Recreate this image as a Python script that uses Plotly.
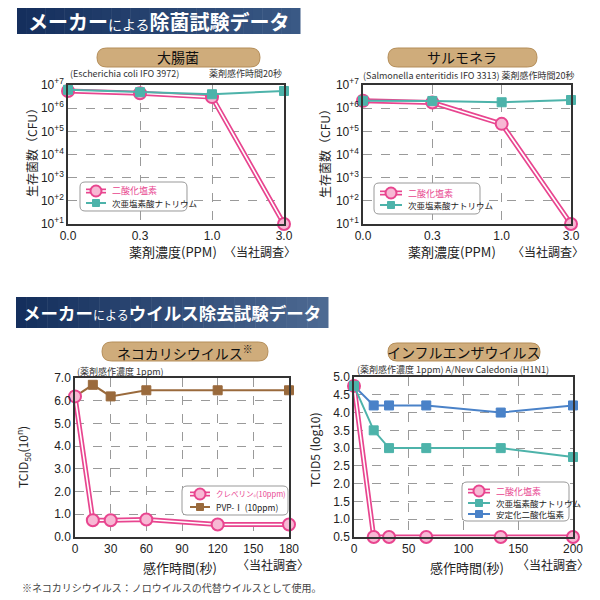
import plotly.graph_objects as go

W = H = 600
OFF = 8  # page body margin in the browser
def px(x): return (x - OFF) / W
def py(y): return 1 - (y - OFF) / H

FONT = "Noto Sans CJK JP"
NUMFONT = "Liberation Sans"

# ---------------- data ----------------
conc_labels = ["0.0", "0.3", "1.0", "3.0"]
ecoli_clo2 = [5.5e6, 4.4e6, 3.0e6, 10]
ecoli_naclo = [6.2e6, 4.9e6, 4.0e6, 5.5e6]
salm_clo2 = [2.1e6, 1.75e6, 2.1e5, 10]
salm_naclo = [2.1e6, 2.05e6, 1.8e6, 2.25e6]
log_tickvals = [1e1, 1e2, 1e3, 1e4, 1e5, 1e6, 1e7]
log_ticktext = ["10<sup>+1</sup>", "10<sup>+2</sup>", "10<sup>+3</sup>", "10<sup>+4</sup>",
                "10<sup>+5</sup>", "10<sup>+6</sup>", "10<sup>+7</sup>"]

calici_time = [0, 15, 30, 60, 120, 180]
calici_cleverin = [6.19, 0.74, 0.74, 0.77, 0.55, 0.55]
calici_pvp = [6.19, 6.7, 6.19, 6.46, 6.46, 6.46]

flu_time = [0, 18, 32, 66, 134, 200]
flu_clo2 = [4.75, 0.5, 0.5, 0.5, 0.5, 0.5]
flu_naclo = [4.75, 3.5, 3.0, 3.0, 3.0, 2.75]
flu_stab = [4.75, 4.2, 4.2, 4.2, 4.0, 4.2]

PINK = "#e8458f"
PINK_FILL = "#f7b8d4"
TEAL = "#4db3aa"
BLUE = "#4a82c8"
BROWN = "#9a6a3c"

fig = go.Figure()

def pink_series(x, y, name, xa, ya):
    fig.add_trace(go.Scatter(x=x, y=y, name=name, mode="lines", xaxis=xa, yaxis=ya,
                             cliponaxis=False, line=dict(color=PINK, width=5)))
    fig.add_trace(go.Scatter(x=x, y=y, mode="lines", xaxis=xa, yaxis=ya, showlegend=False,
                             cliponaxis=False, line=dict(color="white", width=1.6), hoverinfo="skip"))
    fig.add_trace(go.Scatter(x=x, y=y, name=name, mode="markers", xaxis=xa, yaxis=ya,
                             cliponaxis=False,
                             marker=dict(symbol="circle", size=12, color=PINK_FILL,
                                         line=dict(color=PINK, width=2))))

def square_series(x, y, name, color, xa, ya):
    fig.add_trace(go.Scatter(x=x, y=y, name=name, mode="lines+markers", xaxis=xa, yaxis=ya,
                             cliponaxis=False,
                             line=dict(color=color, width=2),
                             marker=dict(symbol="square", size=9, color=color,
                                         line=dict(color=color, width=1))))

# chart 1
pink_series(conc_labels, ecoli_clo2, "二酸化塩素", "x", "y")
square_series(conc_labels, ecoli_naclo, "次亜塩素酸ナトリウム", TEAL, "x", "y")
# chart 2
pink_series(conc_labels, salm_clo2, "二酸化塩素", "x2", "y2")
square_series(conc_labels, salm_naclo, "次亜塩素酸ナトリウム", TEAL, "x2", "y2")
# chart 3
square_series(calici_time, calici_pvp, "PVP-Ⅰ (10ppm)", BROWN, "x3", "y3")
pink_series(calici_time, calici_cleverin, "クレベリン®(10ppm)", "x3", "y3")
# chart 4
square_series(flu_time, flu_stab, "安定化二酸化塩素", BLUE, "x4", "y4")
pink_series(flu_time, flu_clo2, "二酸化塩素", "x4", "y4")
square_series(flu_time, flu_naclo, "次亜塩素酸ナトリウム", TEAL, "x4", "y4")

axis_common = dict(showline=True, linecolor="#333", linewidth=1.5, mirror=True,
                   showgrid=True, gridcolor="#9a9a9a", griddash="dash", gridwidth=1,
                   zeroline=False, ticks="", automargin=False,
                   tickfont=dict(family=NUMFONT, size=12, color="#222"),
                   fixedrange=True)

def xcat(dom, anchor):
    return dict(axis_common, domain=dom, anchor=anchor, type="category", range=[0, 3])

fig.update_layout(
    xaxis=xcat([px(68), px(284)], "y"),
    yaxis=dict(axis_common, domain=[py(224), py(85)], anchor="x", type="log", range=[1, 7],
               tickvals=log_tickvals, ticktext=log_ticktext),
    xaxis2=xcat([px(363), px(571)], "y2"),
    yaxis2=dict(axis_common, domain=[py(224), py(85)], anchor="x2", type="log", range=[1, 7],
                tickvals=log_tickvals, ticktext=log_ticktext),
    xaxis3=dict(axis_common, domain=[px(75), px(289)], anchor="y3", range=[0, 180],
                tickvals=[0, 30, 60, 90, 120, 150, 180]),
    yaxis3=dict(axis_common, domain=[py(537), py(378)], anchor="x3", range=[0, 7],
                tickvals=[0, 1, 2, 3, 4, 5, 6, 7],
                ticktext=["0.0", "1.0", "2.0", "3.0", "4.0", "5.0", "6.0", "7.0"]),
    xaxis4=dict(axis_common, domain=[px(354), px(573)], anchor="y4", range=[0, 200],
                tickvals=[0, 50, 100, 150, 200]),
    yaxis4=dict(axis_common, domain=[py(537), py(377)], anchor="x4", range=[0.5, 5.0],
                tickvals=[0.5, 1.0, 1.5, 2.0, 2.5, 3.0, 3.5, 4.0, 4.5, 5.0],
                ticktext=["0.5", "1.0", "1.5", "2.0", "2.5", "3.0", "3.5", "4.0", "4.5", "5.0"]),
)

shapes = []
annotations = []

def P(x, y):
    return f"{px(x):.5f},{py(y):.5f}"

def rrect(x0, y0, x1, y1, r, fill, line, lw=1):
    path = (f"M {P(x0 + r, y0)} L {P(x1 - r, y0)} Q {P(x1, y0)} {P(x1, y0 + r)} "
            f"L {P(x1, y1 - r)} Q {P(x1, y1)} {P(x1 - r, y1)} L {P(x0 + r, y1)} "
            f"Q {P(x0, y1)} {P(x0, y1 - r)} L {P(x0, y0 + r)} Q {P(x0, y0)} {P(x0 + r, y0)} Z")
    shapes.append(dict(type="path", xref="paper", yref="paper", path=path,
                       fillcolor=fill, line=dict(color=line, width=lw), layer="above"))

def banner(x0, y0, x1, y1, c0, c1, n=30):
    def mix(a, b, t):
        return "#%02x%02x%02x" % tuple(int(a[i] + (b[i] - a[i]) * t) for i in range(3))
    h2r = lambda h: tuple(int(h[i:i + 2], 16) for i in (1, 3, 5))
    a, b = h2r(c0), h2r(c1)
    w = (x1 - x0) / n
    for i in range(n):
        shapes.append(dict(type="rect", xref="paper", yref="paper",
                           x0=px(x0 + i * w), x1=px(x0 + (i + 1) * w + 0.5), y0=py(y1), y1=py(y0),
                           fillcolor=mix(a, b, i / (n - 1)), line=dict(width=0), layer="below"))

def text(x, y, s, size=10, color="#222", xanchor="center", family=FONT, angle=0):
    annotations.append(dict(x=px(x), y=py(y), xref="paper", yref="paper", text=s, showarrow=False,
                            xanchor=xanchor, yanchor="middle", textangle=angle,
                            font=dict(family=family, size=size, color=color)))

def hline(x0, x1, y, color, width):
    shapes.append(dict(type="line", xref="paper", yref="paper", x0=px(x0), x1=px(x1),
                       y0=py(y), y1=py(y), line=dict(color=color, width=width), layer="above"))

def leg_pink(x0, x1, y, label, size=9):
    hline(x0, x1, y, PINK, 5)
    hline(x0, x1, y, "white", 1.6)
    cx, r = (x0 + x1) / 2, 5.5
    shapes.append(dict(type="circle", xref="paper", yref="paper", x0=px(cx - r), x1=px(cx + r),
                       y0=py(y + r), y1=py(y - r), fillcolor=PINK_FILL,
                       line=dict(color=PINK, width=2), layer="above"))
    text(x1 + 4, y, label, size=size, color=PINK, xanchor="left")

def leg_square(x0, x1, y, label, color, size=9):
    hline(x0, x1, y, color, 2)
    cx, r = (x0 + x1) / 2, 3.5
    shapes.append(dict(type="rect", xref="paper", yref="paper", x0=px(cx - r), x1=px(cx + r),
                       y0=py(y + r), y1=py(y - r), fillcolor=color,
                       line=dict(color=color, width=1), layer="above"))
    text(x1 + 4, y, label, size=size, color="#222", xanchor="left")

# banners
banner(17, 8, 300, 34, "#152f5d", "#3a5985")
text(26, 21, "<b>メーカー</b><span style='font-size:14px'>による</span><b>除菌試験データ</b>",
     size=20, color="white", xanchor="left")
banner(16, 297, 328, 328, "#152f5d", "#4d6a92")
text(21, 312, "<b>メーカー</b><span style='font-size:12px'>による</span><b>ウイルス除去試験データ</b>",
     size=17.5, color="white", xanchor="left")

# pills
rrect(97, 48, 260, 67, 9.5, "#cfac7b", "#b48d58")
text(178, 57, "大腸菌", size=14, color="#111")
rrect(388, 48, 537, 67, 9.5, "#cfac7b", "#b48d58")
text(462, 57, "サルモネラ", size=14, color="#111")
rrect(102, 342, 268, 361, 9.5, "#cfac7b", "#b48d58")
text(185, 352, "ネコカリシウイルス<sup>※</sup>", size=14, color="#111")
rrect(388, 343, 540, 361, 9, "#cfac7b", "#b48d58")
text(464, 352, "インフルエンザウイルス", size=14, color="#111")

# subtitles
text(68, 73, "(Escherichia coli IFO 3972)", size=9, color="#333", xanchor="left")
text(284, 73, "薬剤感作時間20秒", size=9, color="#333", xanchor="right")
text(361, 76, "(Salmonella enteritidis IFO 3313) 薬剤感作時間20秒", size=9, color="#333", xanchor="left")
text(75, 371, "(薬剤感作濃度 1ppm)", size=9, color="#333", xanchor="left")
text(355, 369, "(薬剤感作濃度 1ppm) A/New Caledonia (H1N1)", size=9, color="#333", xanchor="left")

# axis titles
text(173, 251, "薬剤濃度(PPM)", size=13)
text(260, 251, "〈当社調査〉", size=12)
text(452, 251, "薬剤濃度(PPM)", size=13)
text(548, 251, "〈当社調査〉", size=12)
text(180, 567, "感作時間(秒)", size=13)
text(273, 564, "〈当社調査〉", size=12)
text(467, 567, "感作時間(秒)", size=13)
text(553, 564, "〈当社調査〉", size=12)
text(31, 150, "生存菌数（CFU）", size=12, angle=-90)
text(324, 150, "生存菌数（CFU）", size=12, angle=-90)
text(23, 457, "TCID<sub>50</sub>(10<sup>n</sup>)", size=12, angle=-90)
text(314, 450, "TCID5 (log10)", size=12, angle=-90)

# legends (drawn as boxes)
rrect(80, 182, 187, 211, 5, "white", "#999")
leg_pink(86, 106, 191, "二酸化塩素")
leg_square(86, 106, 203, "次亜塩素酸ナトリウム", TEAL, size=8.5)

rrect(374, 183, 480, 214, 5, "white", "#999")
leg_pink(380, 402, 193, "二酸化塩素")
leg_square(380, 402, 205, "次亜塩素酸ナトリウム", TEAL, size=8.5)

rrect(182, 486, 288, 515, 5, "white", "#999")
leg_pink(190, 210, 494, "クレベリン<sub>®</sub>(10ppm)", size=7.5)
leg_square(190, 210, 507, "PVP-Ⅰ (10ppm)", BROWN, size=8.5)

rrect(462, 482, 569, 521, 5, "white", "#999")
leg_pink(468, 490, 491, "二酸化塩素")
leg_square(468, 490, 503, "次亜塩素酸ナトリウム", TEAL, size=8.5)
leg_square(468, 490, 514, "安定化二酸化塩素", BLUE, size=8.5)

# footnote
text(20, 587, "※ネコカリシウイルス：ノロウイルスの代替ウイルスとして使用。", size=10, color="#444", xanchor="left")

fig.update_layout(width=W, height=H, margin=dict(l=0, r=0, t=0, b=0, autoexpand=False),
                  paper_bgcolor="white", plot_bgcolor="white", showlegend=False,
                  shapes=shapes, annotations=annotations,
                  font=dict(family=FONT))

fig.write_html("out.html")
